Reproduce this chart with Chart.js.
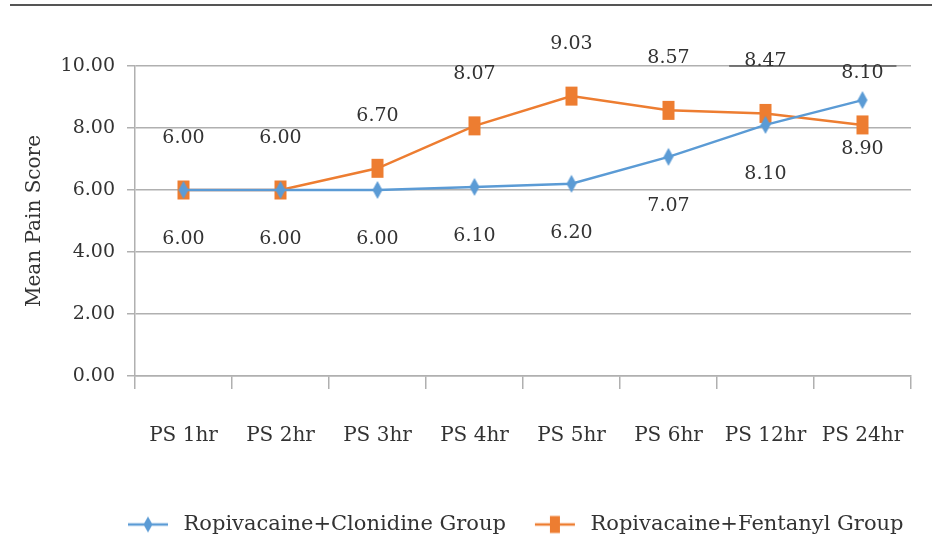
<!DOCTYPE html>
<html>
<head>
<meta charset="utf-8">
<script src="https://cdn.jsdelivr.net/npm/chart.js@4/dist/chart.umd.min.js"></script>
<style>
    html, body { margin: 0; padding: 0; background: #fff; }
    #wrap { position: relative; width: 932px; height: 552px; }
    #topRule { position: absolute; left: 10px; right: 0; top: 4px; height: 2px; background: #555; }
    canvas { position: absolute; left: 0; top: 0; }
</style>
</head>
<body>
<div id="wrap">
    <div id="topRule"></div>
    <canvas id="painChart" width="932" height="552"></canvas>
</div>
<script>
// Data
const timePoints = ['PS 1hr', 'PS 2hr', 'PS 3hr', 'PS 4hr', 'PS 5hr', 'PS 6hr', 'PS 12hr', 'PS 24hr'];
const clonidineScores = [6.00, 6.00, 6.00, 6.10, 6.20, 7.07, 8.10, 8.90];
const fentanylScores = [6.00, 6.00, 6.70, 8.07, 9.03, 8.57, 8.47, 8.10];
const seriesNames = ['Ropivacaine+Clonidine Group', 'Ropivacaine+Fentanyl Group'];
const yTicks = [0, 2, 4, 6, 8, 10];

const BLUE = '#5B9BD5';
const ORANGE = '#ED7D31';
const TEXT = '#333333';
const GRID = '#b0b0b0';
const FONT = '"DejaVu Serif", serif';

// Marker images (tall diamond / tall rectangle like the Excel original)
function drawMarker(g, kind, color, cx, cy, w, h) {
    g.fillStyle = color;
    if (kind === 'diamond') {
        g.beginPath();
        g.moveTo(cx, cy - h / 2);
        g.lineTo(cx + w / 2, cy);
        g.lineTo(cx, cy + h / 2);
        g.lineTo(cx - w / 2, cy);
        g.closePath();
        g.fill();
    } else {
        g.fillRect(cx - w / 2, cy - h / 2, w, h);
    }
}

function makeMarker(kind, color, w, h) {
    const c = document.createElement('canvas');
    c.width = w + 2;
    c.height = h + 2;
    drawMarker(c.getContext('2d'), kind, color, c.width / 2, c.height / 2, w, h);
    return c;
}

function makeLegendIcon(kind, color, w, h) {
    const c = document.createElement('canvas');
    c.width = 42;
    c.height = 22;
    const g = c.getContext('2d');
    g.strokeStyle = color;
    g.lineWidth = 2.5;
    g.beginPath();
    g.moveTo(1, 11);
    g.lineTo(41, 11);
    g.stroke();
    drawMarker(g, kind, color, 21, 11, w, h);
    return c;
}

const pointImages = [makeMarker('diamond', BLUE, 10, 18), makeMarker('rect', ORANGE, 12, 19)];
const legendIcons = [makeLegendIcon('diamond', BLUE, 9, 16), makeLegendIcon('rect', ORANGE, 10, 17)];

// value labels: clonidine below its points, fentanyl above
const labelShift = [49, -52];

const valueLabels = {
    id: 'valueLabels',
    afterDatasetsDraw(chart) {
        const ctx = chart.ctx;
        ctx.save();
        ctx.font = '19px ' + FONT;
        ctx.fillStyle = TEXT;
        ctx.textAlign = 'center';
        ctx.textBaseline = 'middle';
        chart.data.datasets.forEach((ds, i) => {
            chart.getDatasetMeta(i).data.forEach((pt, j) => {
                ctx.fillText(ds.data[j].toFixed(2), pt.x, pt.y + labelShift[i]);
            });
        });
        ctx.restore();
    }
};

// stray dark stroke on the 10.00 gridline seen in the original figure
const strayLine = {
    id: 'strayLine',
    beforeDatasetsDraw(chart) {
        const x = chart.scales.x;
        const y = chart.scales.y;
        const half = (x.getPixelForValue(1) - x.getPixelForValue(0)) / 2;
        const ctx = chart.ctx;
        ctx.save();
        ctx.strokeStyle = '#5a5a5a';
        ctx.lineWidth = 1.6;
        ctx.beginPath();
        ctx.moveTo(x.getPixelForValue(6) - half * 0.75, y.getPixelForValue(10));
        ctx.lineTo(x.getPixelForValue(7) + half * 0.7, y.getPixelForValue(10));
        ctx.stroke();
        ctx.restore();
    }
};

// move the legend row to the right, under the plot like the original
const legendShift = {
    id: 'legendShift',
    afterLayout(chart) {
        chart.legend.left += 99;
        chart.legend.right += 99;
    }
};

const ctx = document.getElementById('painChart').getContext('2d');
new Chart(ctx, {
    type: 'line',
    data: {
        labels: timePoints,
        datasets: [
            {
                label: seriesNames[0],
                data: clonidineScores,
                borderColor: BLUE,
                backgroundColor: BLUE,
                borderWidth: 2.5,
                pointStyle: pointImages[0],
                tension: 0
            },
            {
                label: seriesNames[1],
                data: fentanylScores,
                borderColor: ORANGE,
                backgroundColor: ORANGE,
                borderWidth: 2.5,
                pointStyle: pointImages[1],
                tension: 0
            }
        ]
    },
    options: {
        responsive: false,
        animation: false,
        devicePixelRatio: 1,
        layout: {
            padding: { top: 66, left: 0, right: 21, bottom: 7 }
        },
        scales: {
            x: {
                offset: true,
                grid: {
                    offset: true,
                    drawOnChartArea: false,
                    drawTicks: true,
                    tickLength: 13,
                    color: GRID,
                    lineWidth: 1.5
                },
                border: { color: GRID, width: 1.5 },
                ticks: {
                    color: TEXT,
                    font: { family: FONT, size: 20 },
                    padding: 35,
                    maxRotation: 0,
                    autoSkip: false
                },
                afterFit(scale) {
                    scale.height = 114;
                    scale.paddingLeft = 0;
                    scale.paddingRight = 0;
                }
            },
            y: {
                min: 0,
                max: 10,
                afterBuildTicks(scale) {
                    scale.ticks = yTicks.map(v => ({ value: v }));
                },
                grid: {
                    color: GRID,
                    lineWidth: 1.5,
                    tickLength: 8
                },
                border: { color: GRID, width: 1.5 },
                ticks: {
                    color: TEXT,
                    font: { family: FONT, size: 19 },
                    padding: 12,
                    callback: v => Number(v).toFixed(2)
                },
                title: {
                    display: true,
                    text: 'Mean Pain Score',
                    color: TEXT,
                    font: { family: FONT, size: 20 },
                    padding: { top: 23, bottom: 0 }
                },
                afterFit(scale) {
                    scale.width = 135;
                }
            }
        },
        plugins: {
            legend: {
                display: true,
                position: 'bottom',
                align: 'start',
                labels: {
                    color: TEXT,
                    font: { family: FONT, size: 21 },
                    usePointStyle: true,
                    pointStyleWidth: 50,
                    padding: 24,
                    generateLabels(chart) {
                        const items = Chart.defaults.plugins.legend.labels.generateLabels(chart);
                        items.forEach((item, i) => { item.pointStyle = legendIcons[i]; });
                        return items;
                    }
                }
            },
            tooltip: { enabled: false }
        }
    },
    plugins: [strayLine, valueLabels, legendShift]
});
</script>
</body>
</html>
